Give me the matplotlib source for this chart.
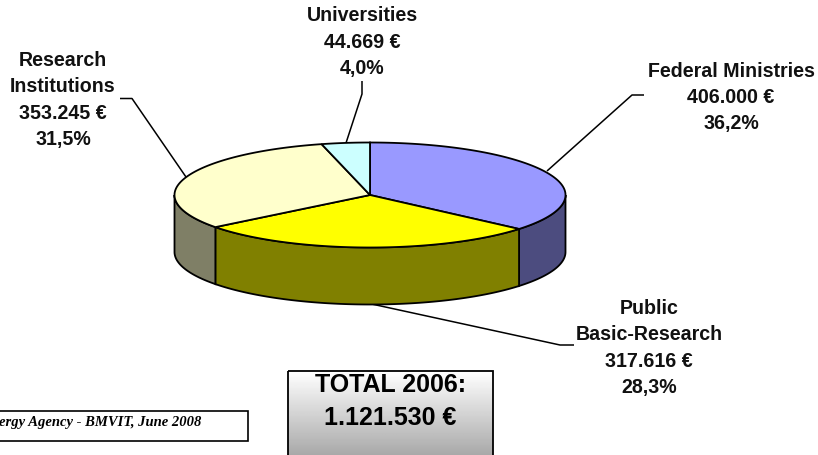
import numpy as np
import matplotlib
matplotlib.use('Agg')
import matplotlib.pyplot as plt
from matplotlib.patches import Polygon, Rectangle

# values, clockwise from 12 o'clock
names = ['Federal Ministries', 'Public\nBasic-Research', 'Research\nInstitutions', 'Universities']
values = [406000, 317616, 353245, 44669]
value_labels = ['406.000 €', '317.616 €', '353.245 €', '44.669 €']
pct_labels = ['36,2%', '28,3%', '31,5%', '4,0%']
top_colors = ['#9999FF', '#FFFF00', '#FFFFCC', '#CCFFFF']
side_colors = ['#4C4C7F', '#808000', '#7F7F66', '#667F7F']
total_text = 'TOTAL 2006:\n1.121.530 €'
source_text = 'ergy Agency - BMVIT, June 2008'

label_pos = [(731, 97.5), (649, 348), (63, 100), (362, 42)]
leaders = [[(644, 95), (632, 95), (547, 171)],
           [(574, 345), (560, 345), (367, 303)],
           [(120, 98.5), (132, 98.5), (186, 177)],
           [(362, 81), (362, 94), (346, 143)]]

cx, cy = 370, 195
rx, ry = 195.5, 52.5
depth = 57

plt.rcParams['font.family'] = ['Liberation Sans', 'DejaVu Sans']

fig = plt.figure(figsize=(8.18, 4.55), dpi=100)
ax = fig.add_axes([0, 0, 1, 1])
ax.set_xlim(0, 818)
ax.set_ylim(455, 0)
ax.axis('off')


def rim(a0, a1, dy=0):
    # points on the ellipse, angle in radians clockwise from the top
    t = np.linspace(a0, a1, max(int(abs(a1 - a0) * 60), 2))
    return np.column_stack([cx + rx * np.sin(t), cy - ry * np.cos(t) + dy])


edges = 2 * np.pi * np.concatenate([[0], np.cumsum(values)]) / np.sum(values)

# outer wall, only the front half of the ellipse can be seen
for i in range(len(values)):
    a0 = max(edges[i], np.pi / 2)
    a1 = min(edges[i + 1], 3 * np.pi / 2)
    if a1 <= a0:
        continue
    pts = np.vstack([rim(a0, a1), rim(a0, a1, depth)[::-1]])
    ax.add_patch(Polygon(pts, closed=True, fc=side_colors[i], ec='black', lw=1.3, zorder=2))

# top face
for i in range(len(values)):
    pts = np.vstack([[(cx, cy)], rim(edges[i], edges[i + 1])])
    ax.add_patch(Polygon(pts, closed=True, fc=top_colors[i], ec='black', lw=1.3, zorder=3))

# leader lines and labels
for i in range(len(names)):
    xs, ys = zip(*leaders[i])
    ax.plot(xs, ys, color='black', lw=1.1, zorder=1, solid_capstyle='butt')
    ax.text(label_pos[i][0], label_pos[i][1],
            names[i] + '\n' + value_labels[i] + '\n' + pct_labels[i],
            ha='center', va='center', fontsize=14.1, fontweight='bold',
            color='#111111', linespacing=1.47)

# total box with grey gradient
grad = np.linspace(1.0, 0.66, 100).reshape(-1, 1)
ax.imshow(grad, cmap='gray', vmin=0, vmax=1, extent=(288, 493, 456, 371), aspect='auto', zorder=2)
ax.set_xlim(0, 818)
ax.set_ylim(455, 0)
ax.add_patch(Rectangle((288, 371), 205, 90, fc='none', ec='black', lw=1.3, zorder=3))
ax.text(390.5, 401.5, total_text, ha='center', va='center', fontsize=18, fontweight='bold',
        linespacing=1.5, zorder=4)

# source box runs off the left edge of the picture
ax.add_patch(Rectangle((-40, 410.5), 288, 30.5, fc='white', ec='black', lw=1.2, zorder=2))
ax.text(201, 422.5, source_text, ha='right', va='center', fontsize=10.5, fontweight='bold',
        family='Liberation Serif', style='italic', zorder=3)

fig.savefig('out.png', dpi=100)
